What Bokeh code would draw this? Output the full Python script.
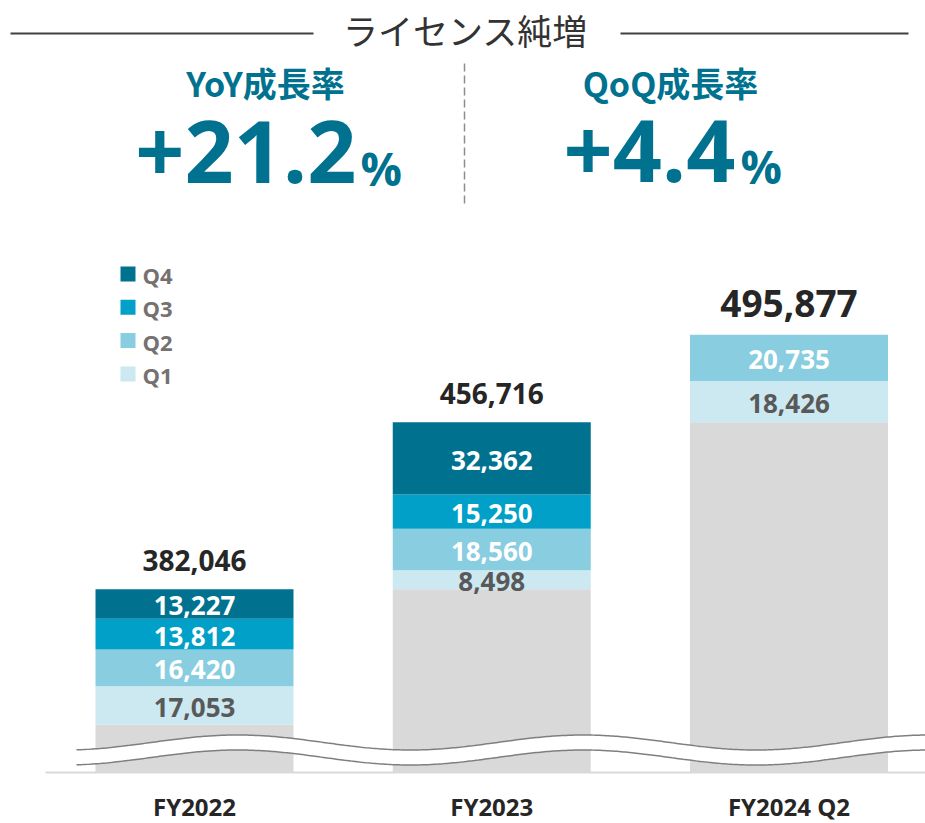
import numpy as np
from bokeh.plotting import figure
from bokeh.models import Range1d, ColumnDataSource
from bokeh.core.properties import value
from bokeh.embed import file_html
from bokeh.resources import INLINE

# ---------------- data ----------------
categories = ["FY2022", "FY2023", "FY2024 Q2"]
totals = [382046, 456716, 495877]
q1 = [17053, 8498, 18426]
q2 = [16420, 18560, 20735]
q3 = [13812, 15250, None]
q4 = [13227, 32362, None]
quarter_names = ["Q1", "Q2", "Q3", "Q4"]
axis_floor = 300000

title_text = "ライセンス純増"
kpi_titles = ["YoY成長率", "QoQ成長率"]
kpi_values = ["+21.2", "+4.4"]
kpi_unit = "%"

# ---------------- style ----------------
quarter_colors = ["#CCE8F1", "#88CDE0", "#00A0C9", "#00728F"]
label_colors = ["#595959", "#FFFFFF", "#FFFFFF", "#FFFFFF"]
base_color = "#D9D9D9"
teal = "#00728F"
JP = value("Noto Sans CJK JP")
LAT = value("Open Sans")

W, H = 925, 823
OX, OY = 0, 0
x_center0, x_step = 194.0, 297.25
units_per_px = 447.5
floor_px = 772
bar_w = 198 / x_step

p = figure(width=W, height=H, output_backend="svg", toolbar_location=None,
           x_range=Range1d((OX - x_center0) / x_step, (OX + W - x_center0) / x_step),
           y_range=Range1d(axis_floor - (OY + H - floor_px) * units_per_px,
                           axis_floor + (floor_px - OY) * units_per_px),
           x_axis_location=None, y_axis_location=None, min_border=0)
p.grid.visible = False
p.outline_line_color = None
p.background_fill_color = "white"
p.border_fill_color = "white"
p.extra_x_ranges = {"px": Range1d(OX, OX + W)}
p.extra_y_ranges = {"px": Range1d(OY + H, OY)}
PX = dict(x_range_name="px", y_range_name="px")

# ---------------- bars ----------------
xi = np.arange(len(categories), dtype=float)
series = [np.array([np.nan if v is None else v for v in s], dtype=float) for s in (q1, q2, q3, q4)]
tot = np.array(totals, dtype=float)
base = tot - sum(np.nan_to_num(s) for s in series)

p.vbar(x=xi, bottom=axis_floor, top=base, width=bar_w, fill_color=base_color, line_color=None)

bottom = base.copy()
for name, s, col, lc in zip(quarter_names, series, quarter_colors, label_colors):
    mask = ~np.isnan(s)
    top = bottom + np.nan_to_num(s)
    src = ColumnDataSource(dict(x=xi[mask], bottom=bottom[mask], top=top[mask],
                                mid=((bottom + top) / 2)[mask],
                                label=[f"{v:,.0f}" for v in s[mask]]))
    p.vbar(x="x", bottom="bottom", top="top", width=bar_w, source=src,
           fill_color=col, line_color=None)
    p.text(x="x", y="mid", text="label", source=src, text_align="center",
           text_baseline="middle", text_font=LAT, text_font_style="bold",
           text_font_size="26px", text_color=lc, y_offset=2)
    bottom = top

# totals
tot_sizes = [28, 28, 37]
tot_src = ColumnDataSource(dict(x=xi, y=tot, label=[f"{t:,.0f}" for t in totals],
                                size=[f"{s}px" for s in tot_sizes],
                                off=[-(18 + 0.37 * s) for s in tot_sizes]))
p.text(x="x", y="y", text="label", source=tot_src, text_align="center",
       text_baseline="middle", text_font=LAT, text_font_style="bold",
       text_font_size="size", text_color="#262626", y_offset="off")

# break band
wx = np.linspace(76, OX + W, 400)
wy = 742 - 7.5 * np.cos(2 * np.pi * (wx - 237) / 346)
p.varea(x=wx, y1=wy, y2=wy + 15, fill_color="white", **PX)
p.line(wx, wy, line_color="#7F7F7F", line_width=1.5, **PX)
p.line(wx, wy + 15, line_color="#7F7F7F", line_width=1.5, **PX)

# base axis line
p.segment(x0=[45], x1=[OX + W], y0=[axis_floor], y1=[axis_floor],
          line_color="#D9D9D9", line_width=2, x_range_name="px")

# category labels
p.text(x=xi, y=[806] * len(categories), text=categories, text_align="center",
       text_baseline="middle", text_font=LAT, text_font_style="bold",
       text_font_size="24px", text_color="#262626", y_range_name="px")

# legend
leg_names = quarter_names[::-1]
leg_cols = quarter_colors[::-1]
leg_y = [273.5 + 33.3 * k for k in range(len(leg_names))]
p.scatter(x=[127.5] * len(leg_names), y=leg_y, marker="square", size=15,
          fill_color=leg_cols, line_color=None, **PX)
p.text(x=[142] * len(leg_names), y=leg_y, text=leg_names, text_align="left",
       text_baseline="middle", text_font=LAT, text_font_style="bold",
       text_font_size="22px", text_color="#767171", y_offset=1, **PX)

# header
p.segment(x0=[10, 620], x1=[313, 908], y0=[33, 33], y1=[33, 33],
          line_color="#404040", line_width=2, **PX)
p.text(x=[465], y=[28.5], text=[title_text], text_align="center", text_baseline="middle",
       text_font=JP, text_font_size="35px", text_color="#333333", **PX)

p.segment(x0=[464], x1=[464], y0=[63], y1=[204], line_color="#8C8C8C",
          line_width=1.5, line_dash="8 4", **PX)

p.text(x=[265, 670], y=[81.5, 81.5], text=kpi_titles, text_align="center",
       text_baseline="middle", text_font=JP, text_font_style="bold",
       text_font_size="34px", text_color=teal, **PX)
p.text(x=[356, 735], y=[151.5, 150], text=kpi_values, text_align="right",
       text_baseline="middle", text_font=LAT, text_font_style="bold",
       text_font_size="86px", text_color=teal, **PX)
p.text(x=[360, 740], y=[167, 165], text=[kpi_unit, kpi_unit], text_align="left",
       text_baseline="middle", text_font=LAT, text_font_style="bold",
       text_font_size="46px", text_color=teal, **PX)

open("out.html", "w").write(file_html(p, INLINE))
